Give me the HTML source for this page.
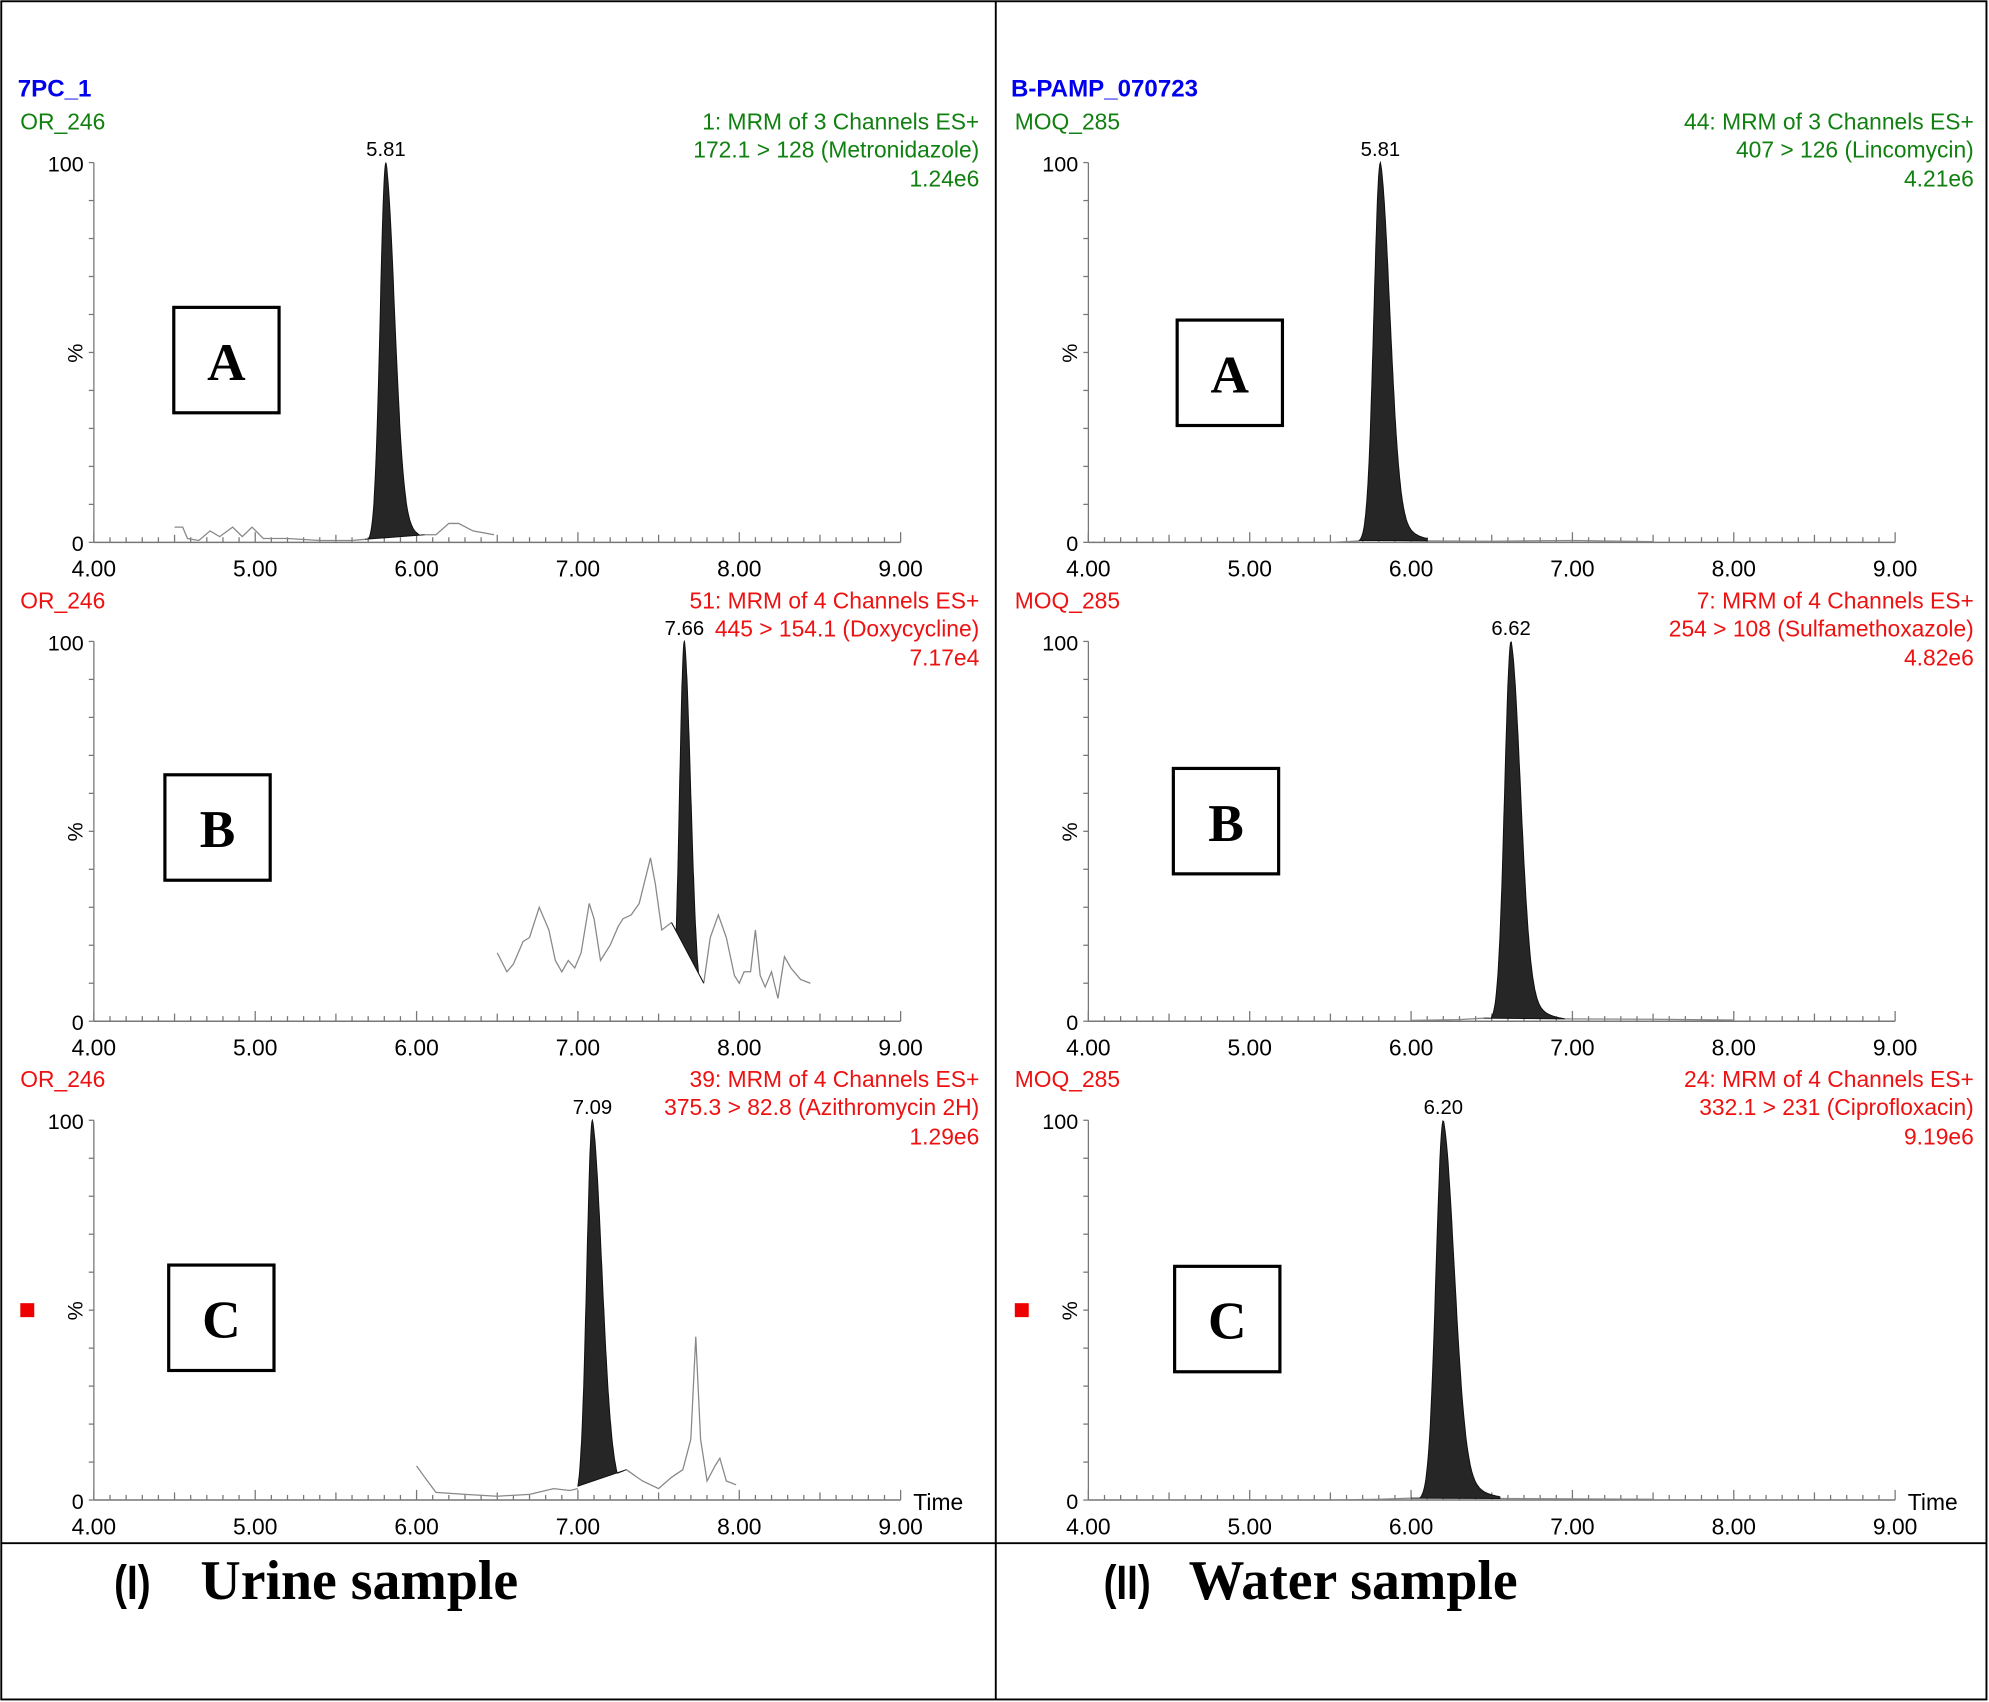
<!DOCTYPE html>
<html><head><meta charset="utf-8">
<style>html,body{margin:0;padding:0;background:#fff}svg{display:block}
text{font-family:"Liberation Sans",Arial,sans-serif}</style></head>
<body>
<svg id="s" width="1989" height="1702" viewBox="0 0 1568 1340" preserveAspectRatio="none" xmlns="http://www.w3.org/2000/svg">
<rect x="1" y="1" width="1565" height="1337" fill="#fff" stroke="#000" stroke-width="1.5"/>
<line x1="785" y1="1" x2="785" y2="1338" stroke="#000" stroke-width="1.5"/>
<line x1="1" y1="1215" x2="1566" y2="1215" stroke="#000" stroke-width="1.5"/>
<g id="g"></g>
<text x="14" y="76" fill="#0000ee" font-size="19" font-weight="bold">7PC_1</text>
<text x="797" y="76" fill="#0000ee" font-size="19" font-weight="bold">B-PAMP_070723</text>
<text x="90" y="1259" font-size="38" font-weight="bold" transform="translate(90,0) scale(0.8,1) translate(-90,0)">(I)</text>
<text x="158" y="1259" font-size="44" font-weight="bold" style="font-family:'Liberation Serif',serif">Urine sample</text>
<text x="870" y="1259" font-size="38" font-weight="bold" transform="translate(870,0) scale(0.8,1) translate(-870,0)">(II)</text>
<text x="937" y="1259" font-size="44" font-weight="bold" style="font-family:'Liberation Serif',serif">Water sample</text>
</svg>
<script>
var g=document.getElementById('g'),h='';
function T(x,y,s,c,sz,a,extra){h+='<text x="'+x+'" y="'+y+'" fill="'+c+'" font-size="'+sz+'" text-anchor="'+(a||'start')+'" '+(extra||'')+'>'+s+'</text>';}
var panels=[
 {x0:74,y100:128,c:'#108010',id:'OR_246',l:['1: MRM of 3 Channels ES+','172.1 &gt; 128 (Metronidazole)','1.24e6'],pk:5.81,box:[137,242],L:'A',
  noise:[[4.5,4],[4.55,4],[4.58,1],[4.65,0.5],[4.72,3],[4.78,1.5],[4.86,4],[4.92,1.5],[4.98,4],[5.05,1],[5.2,1],[5.4,0.5],[5.6,0.5],[5.68,0.8]],
  ia:5.68,ib:6.05,ya:0.8,yb:2,sl:0.035,sr:0.055,after:[[6.05,2],[6.12,2],[6.2,5],[6.26,5],[6.35,3],[6.48,2]]},
 {x0:74,y100:505,c:'#ee1111',id:'OR_246',l:['51: MRM of 4 Channels ES+','445 &gt; 154.1 (Doxycycline)','7.17e4'],pk:7.66,box:[130,610],L:'B',
  noise:[[6.5,18],[6.56,13],[6.6,15],[6.66,21],[6.7,22],[6.76,30],[6.82,24],[6.86,16],[6.9,13],[6.94,16],[6.98,14],[7.02,18],[7.07,31],[7.1,27],[7.14,16],[7.2,20],[7.25,25],[7.28,27],[7.33,28],[7.38,31],[7.45,43],[7.48,36],[7.52,24],[7.58,26]],
  ia:7.58,ib:7.78,ya:26,yb:10,sl:0.03,sr:0.04,after:[[7.78,10],[7.82,22],[7.87,28],[7.92,22],[7.97,12],[8.0,10],[8.03,13],[8.07,13],[8.1,24],[8.13,12],[8.16,9],[8.2,13],[8.24,6],[8.28,17],[8.32,14],[8.38,11],[8.44,10]]},
 {x0:74,y100:882,c:'#ee1111',id:'OR_246',l:['39: MRM of 4 Channels ES+','375.3 &gt; 82.8 (Azithromycin 2H)','1.29e6'],pk:7.09,box:[133,996],L:'C',
  noise:[[6.0,9],[6.05,6],[6.12,2],[6.3,1.5],[6.5,1],[6.7,1.5],[6.85,3],[6.95,2.5],[7.0,3]],
  ia:7.0,ib:7.3,ya:3,yb:8,sl:0.035,sr:0.06,after:[[7.3,8],[7.4,5],[7.5,3],[7.58,6],[7.65,8],[7.7,16],[7.73,43],[7.76,16],[7.8,5],[7.85,9],[7.88,11],[7.92,5],[7.98,4]],time:1},
 {x0:858,y100:128,c:'#108010',id:'MOQ_285',l:['44: MRM of 3 Channels ES+','407 &gt; 126 (Lincomycin)','4.21e6'],pk:5.81,box:[928,252],L:'A',
  noise:[[5.5,0],[5.6,0.2],[5.68,0.4]],ia:5.68,ib:6.1,ya:0.4,yb:0.4,sl:0.04,sr:0.06,after:[[6.1,0.4],[6.5,0.3],[7.0,0.5],[7.5,0.2]]},
 {x0:858,y100:505,c:'#ee1111',id:'MOQ_285',l:['7: MRM of 4 Channels ES+','254 &gt; 108 (Sulfamethoxazole)','4.82e6'],pk:6.62,box:[925,605],L:'B',
  noise:[[6.0,0.2],[6.3,0.4],[6.45,0.8]],ia:6.45,ib:6.95,ya:0.8,yb:0.6,sl:0.04,sr:0.06,after:[[6.95,0.6],[7.5,0.5],[8.0,0.3]]},
 {x0:858,y100:882,c:'#ee1111',id:'MOQ_285',l:['24: MRM of 4 Channels ES+','332.1 &gt; 231 (Ciprofloxacin)','9.19e6'],pk:6.20,box:[926,997],L:'C',
  noise:[[5.5,0],[5.8,0.2],[6.0,0.5]],ia:6.0,ib:6.55,ya:0.5,yb:0.4,sl:0.045,sr:0.07,after:[[6.55,0.4],[7.0,0.3],[7.5,0.2]],time:1}
];
var PX=636/5,H=299;
panels.forEach(function(p){
 var X=function(t){return p.x0+(t-4)*PX}, y0=p.y100+H, Y=function(v){return y0-H*v/100};
 h+='<line x1="'+p.x0+'" y1="'+p.y100+'" x2="'+p.x0+'" y2="'+y0+'" stroke="#777" stroke-width="1"/>';
 h+='<line x1="'+p.x0+'" y1="'+y0+'" x2="'+(p.x0+636)+'" y2="'+y0+'" stroke="#777" stroke-width="1.2"/>';
 for(var i=0;i<=10;i++){var yy=Y(i*10);h+='<line x1="'+(p.x0-4)+'" y1="'+yy+'" x2="'+p.x0+'" y2="'+yy+'" stroke="#777"/>';}
 for(var i=0;i<=50;i++){var xx=X(4+i/10),l=(i%10==0)?8:(i%5==0?6:4);h+='<line x1="'+xx+'" y1="'+y0+'" x2="'+xx+'" y2="'+(y0-l)+'" stroke="#777"/>';}
 for(var i=0;i<=5;i++)T(X(4+i),y0+27,(4+i)+'.00','#000',18,'middle');
 T(p.x0-8,p.y100+7,'100','#000',17,'end');T(p.x0-8,y0+7,'0','#000',17,'end');
 h+='<text transform="translate('+(p.x0-9)+','+(p.y100+150)+') rotate(-90)" font-size="17" text-anchor="middle">%</text>';
 T(p.x0-58,p.y100-26,p.id,p.c,18);
 var rx=p.x0+698;
 T(rx,p.y100-26,p.l[0],p.c,18,'end');T(rx,p.y100-4,p.l[1],p.c,18,'end');T(rx,p.y100+19,p.l[2],p.c,18,'end');
 T(X(p.pk),p.y100-5,p.pk.toFixed(2),'#000',16,'middle');
 if(p.time)T(p.x0+646,y0+8,'Time','#000',18);
 if(p.L=='C')h+='<rect x="'+(p.x0-58)+'" y="'+(p.y100+144)+'" width="11" height="11" fill="#ee0000"/>';
 h+='<rect x="'+p.box[0]+'" y="'+p.box[1]+'" width="83" height="83" fill="none" stroke="#000" stroke-width="2.5"/>';
 h+='<text x="'+(p.box[0]+41.5)+'" y="'+(p.box[1]+57)+'" font-size="42" font-weight="bold" text-anchor="middle" style="font-family:\'Liberation Serif\',serif">'+p.L+'</text>';
 var pts=p.noise.map(function(a){return X(a[0]).toFixed(1)+','+Y(a[1]).toFixed(1)}).join(' ');
 h+='<polyline points="'+pts+'" fill="none" stroke="#888" stroke-width="1"/>';
 pts=p.after.map(function(a){return X(a[0]).toFixed(1)+','+Y(a[1]).toFixed(1)}).join(' ');
 h+='<polyline points="'+pts+'" fill="none" stroke="#888" stroke-width="1"/>';
 var P=[],N=120;
 for(var k=0;k<=N;k++){var t=p.ia+(p.ib-p.ia)*k/N,d=t-p.pk,v;
  if(d<0)v=100*Math.exp(-d*d/(2*p.sl*p.sl));else v=100*(0.8*Math.exp(-d*d/(2*p.sr*p.sr))+0.2*Math.exp(-d/(p.sr*1.6)));
  var base=p.ya+(p.yb-p.ya)*(t-p.ia)/(p.ib-p.ia);v=Math.max(v,base);
  P.push(X(t).toFixed(1)+','+Y(v).toFixed(1));}
 P.push(X(p.ib).toFixed(1)+','+Y(p.yb).toFixed(1));
 h+='<polygon points="'+P.join(' ')+'" fill="#262626" stroke="#111" stroke-width="0.8"/>';
});
g.innerHTML=h;
</script>
</body></html>
